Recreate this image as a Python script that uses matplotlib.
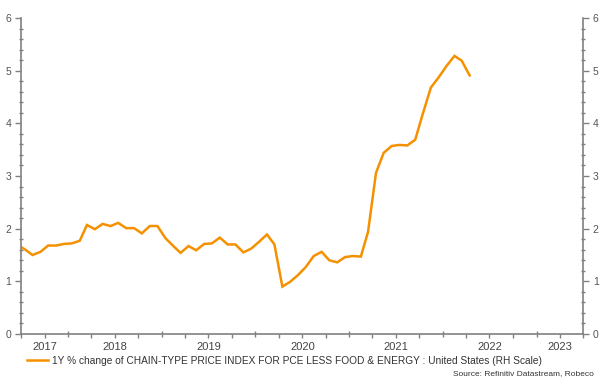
import matplotlib
matplotlib.use("Agg")
import matplotlib.pyplot as plt
import matplotlib.dates as mdates
import matplotlib.ticker as mticker
import numpy as np
import pandas as pd

plt.rcParams['font.family'] = ['Liberation Sans', 'DejaVu Sans']

# ---- data (monthly, plotted mid-month) ----
start_month = "2017-06-01"
values = [
    1.70, 1.61, 1.50, 1.56, 1.68, 1.68, 1.71,                          # Jun-Dec 2017
    1.72, 1.77, 2.07, 1.99, 2.09, 2.05, 2.11, 2.01, 2.01, 1.91, 2.05, 2.05,  # 2018
    1.82, 1.67, 1.54, 1.67, 1.59, 1.71, 1.72, 1.83, 1.70, 1.70, 1.55, 1.62,  # 2019
    1.75, 1.89, 1.70, 0.90, 0.99, 1.12, 1.27, 1.48, 1.56, 1.40, 1.36, 1.46,  # 2020
    1.48, 1.47, 1.94, 3.06, 3.44, 3.57, 3.59, 3.58, 3.69, 4.19, 4.68, 4.87,  # 2021
    5.09, 5.28, 5.19, 4.91,                                            # Jan-Apr 2022
]
series_label = ("1Y % change of CHAIN-TYPE PRICE INDEX FOR PCE LESS FOOD & ENERGY : "
                "United States (RH Scale)")
source_text = "Source: Refinitiv Datastream, Robeco"
year_labels = [2017, 2018, 2019, 2020, 2021, 2022, 2023]
x_start, x_end = pd.Timestamp("2017-07-01"), pd.Timestamp("2023-07-01")

dates = pd.date_range(start_month, periods=len(values), freq="MS") + pd.Timedelta(days=14)

# ---- figure ----
fig = plt.figure(figsize=(6.03, 3.78), dpi=100)
ax = fig.add_axes([21/603, 1-334/378, 562/603, 316/378])

line_color = "#F59100"
ax.plot(dates, values, color=line_color, lw=1.8, solid_joinstyle="miter",
        label=series_label, clip_on=True)

ax.set_xlim(x_start, x_end)
ax.set_ylim(0, 6)

spine_c = "#808080"
for s in ["left", "right", "bottom"]:
    ax.spines[s].set_color(spine_c)
    ax.spines[s].set_linewidth(1.2)
ax.spines["top"].set_visible(False)

# y axis on both sides
ax.yaxis.set_major_locator(mticker.MultipleLocator(1))
ax.yaxis.set_minor_locator(mticker.MultipleLocator(0.2))
ax.tick_params(axis="y", which="both", left=True, right=True,
               labelleft=True, labelright=True, colors=spine_c,
               labelcolor="#555555", labelsize=7.5)
ax.tick_params(axis="y", which="major", direction="out", length=4, width=1, pad=3)
ax.tick_params(axis="y", which="minor", direction="inout", length=3, width=1)

# x axis: year ticks (inout) and quarter ticks (out), no labels
ax.xaxis.set_major_locator(mdates.YearLocator())
ax.xaxis.set_minor_locator(mdates.MonthLocator(bymonth=[4, 7, 10]))
ax.xaxis.set_major_formatter(mticker.NullFormatter())
ax.tick_params(axis="x", which="major", direction="inout", length=5, width=1, colors=spine_c)
ax.tick_params(axis="x", which="minor", direction="out", length=3, width=1, colors=spine_c)

# year labels at centre of visible part of each year
label_pos = []
for y in year_labels:
    a = max(pd.Timestamp(f"{y}-01-01"), x_start)
    b = min(pd.Timestamp(f"{y+1}-01-01"), x_end)
    label_pos.append(mdates.date2num(a + (b - a) / 2))
sec = ax.secondary_xaxis("bottom")
sec.xaxis.set_major_locator(mticker.FixedLocator(label_pos))
sec.xaxis.set_major_formatter(mticker.FixedFormatter([str(y) for y in year_labels]))
sec.xaxis.set_minor_locator(mticker.NullLocator())
sec.tick_params(axis="x", length=0, pad=5.5, labelsize=8, labelcolor="#444444")
sec.spines["bottom"].set_visible(False)

# legend and source
fig.legend(loc="center left", bbox_to_anchor=(27/603, 1-361/378), frameon=False,
           borderpad=0, borderaxespad=0, handlelength=2.1, handletextpad=0.35,
           fontsize=7.25, labelcolor="#333333")
fig.text(594/603, 1-373.5/378, source_text, ha="right", va="center",
         fontsize=6, color="#333333")

fig.savefig("out.png", dpi=100)
